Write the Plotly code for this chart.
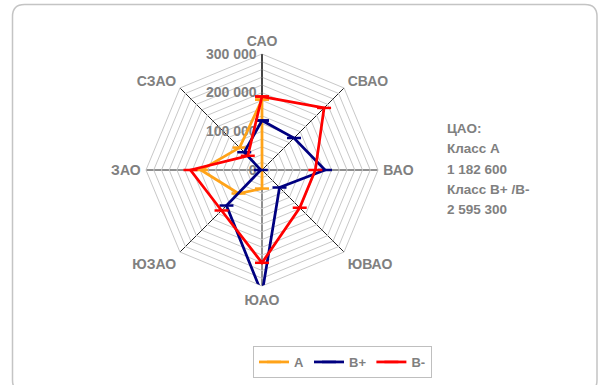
import plotly.graph_objects as go

# Districts of Moscow (clockwise from north)
districts = ["САО", "СВАО", "ВАО", "ЮВАО", "ЮАО", "ЮЗАО", "ЗАО", "СЗАО"]

# Office space by class, sq. m
class_a = [182000, 0, 0, 0, 48000, 86000, 158000, 82000]
class_b_plus = [128000, 117000, 163000, 64000, 320000, 130000, 3000, 65000]
class_b_minus = [190000, 227000, 138000, 138000, 240000, 148000, 185000, 52000]

series_names = ["A", "B+", "B-"]
series_colors = ["#FFA319", "#000080", "#FF0000"]

# Radial grid every 20 000, labelled every 100 000
radial_ticks = list(range(0, 300001, 20000))
radial_text = [(f"{v:,}".replace(",", " ") if v % 100000 == 0 else "") for v in radial_ticks]

note_lines = ["ЦАО:", "Класс А", "1 182 600", "Класс B+ /B-", "2 595 300"]

GREY = "#808080"
FONT = "Liberation Sans, Arial, sans-serif"

fig = go.Figure()
for name, vals, col in zip(series_names, [class_a, class_b_plus, class_b_minus], series_colors):
    fig.add_trace(go.Scatterpolar(
        r=vals + vals[:1],
        theta=districts + districts[:1],
        name=name,
        mode="lines+markers",
        line=dict(color=col, width=2.75),
        marker=dict(symbol="line-ew", size=10, line=dict(color=col, width=2.5)),
        cliponaxis=False,
    ))

W, H = 602, 385
cx, cy, R = 262, 170, 116

fig.update_layout(
    width=W, height=H,
    margin=dict(l=0, r=0, t=0, b=0),
    paper_bgcolor="white",
    plot_bgcolor="white",
    font=dict(family=FONT, size=13, color=GREY, weight="bold"),
    polar=dict(
        domain=dict(x=[(cx - R) / W, (cx + R) / W],
                    y=[1 - (cy + R) / H, 1 - (cy - R) / H]),
        bgcolor="white",
        gridshape="linear",
        radialaxis=dict(
            range=[0, 300000],
            angle=90,
            tickangle=90,
            side="counterclockwise",
            tickvals=radial_ticks,
            ticktext=radial_text,
            showline=True, linecolor="black", linewidth=1,
            gridcolor="#C8C8C8", gridwidth=1,
            ticks="",
            layer="below traces",
            tickfont=dict(family=FONT, size=14, color=GREY, weight="bold"),
        ),
        angularaxis=dict(
            direction="clockwise",
            rotation=90,
            showline=True, linecolor="#C8C8C8", linewidth=1,
            gridcolor="#202020", gridwidth=1,
            ticks="outside", ticklen=2, tickcolor="rgba(0,0,0,0)",
            layer="below traces",
            tickfont=dict(family=FONT, size=14, color=GREY, weight="bold"),
        ),
    ),
    showlegend=True,
    legend=dict(
        orientation="h",
        x=253 / W, xanchor="left",
        y=1 - 346 / H, yanchor="top",
        bordercolor="#BFBFBF", borderwidth=1,
        font=dict(family=FONT, size=13, color=GREY, weight="bold"),
        itemwidth=30,
        tracegroupgap=0,
    ),
)

# Side note on the central district
for i, line in enumerate(note_lines):
    fig.add_annotation(
        x=445 / W, y=1 - (128 + i * 20.5) / H,
        xref="paper", yref="paper",
        xanchor="left", yanchor="middle",
        text=line, showarrow=False,
        font=dict(family=FONT, size=13.5, color=GREY, weight="bold"),
    )

# Rounded chart frame
x0, y0, x1, y1, rr = 12.5, 4.5, 597, 392, 12
def px(x):
    return x / W
def py(y):
    return 1 - y / H
path = (f"M {px(x0 + rr)},{py(y0)} L {px(x1 - rr)},{py(y0)} "
        f"Q {px(x1)},{py(y0)} {px(x1)},{py(y0 + rr)} "
        f"L {px(x1)},{py(y1 - rr)} Q {px(x1)},{py(y1)} {px(x1 - rr)},{py(y1)} "
        f"L {px(x0 + rr)},{py(y1)} Q {px(x0)},{py(y1)} {px(x0)},{py(y1 - rr)} "
        f"L {px(x0)},{py(y0 + rr)} Q {px(x0)},{py(y0)} {px(x0 + rr)},{py(y0)} Z")
fig.add_shape(type="path", path=path, xref="paper", yref="paper",
              line=dict(color="#C4C4C4", width=1.5), layer="below")

fig.write_html("out.html")
